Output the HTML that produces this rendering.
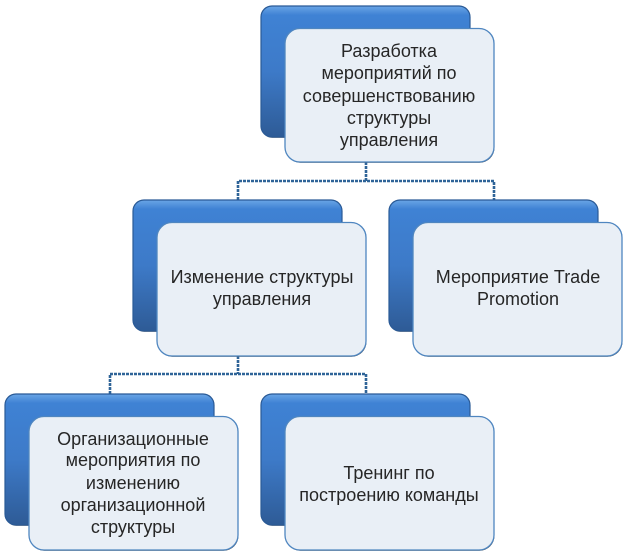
<!DOCTYPE html>
<html><head><meta charset="utf-8"><style>
html,body{margin:0;padding:0;background:#fff;width:627px;height:556px;overflow:hidden}
text{font-family:"Liberation Sans","Noto Sans CJK SC",sans-serif;font-size:18px;fill:#262626;text-anchor:middle}
</style></head><body>
<svg width="627" height="556" viewBox="0 0 627 556" xmlns="http://www.w3.org/2000/svg">
<defs>
<linearGradient id="b" x1="0" y1="0" x2="0" y2="1">
<stop offset="0" stop-color="#6aa5e6"/><stop offset=".07" stop-color="#3f82d4"/><stop offset=".5" stop-color="#3d7ac8"/><stop offset="1" stop-color="#2e5b96"/>
</linearGradient>
<g id="n">
<rect x="0.500" y="0.800" width="209" height="131" rx="11" fill="#333"/>
<rect x="0" y="0" width="209" height="131" rx="11" fill="url(#b)" stroke="#2a5a96" stroke-width="1.200"/>
<rect x="24.500" y="23.300" width="209" height="133.500" rx="15" fill="#333"/>
<rect x="24" y="22.500" width="209" height="133.500" rx="15" fill="#e9eff6" stroke="#4f86c0" stroke-width="1.300"/>
</g>
</defs>
<g fill="none" stroke="#2f6498" stroke-width="2.600" stroke-dasharray="3 1">
<path d="M366 162V181M238 200V181H494V200"/>
<path d="M238 356V374M110 394V374H366V394"/>
</g>
<use href="#n" x="261" y="6"/>
<use href="#n" x="133" y="200"/>
<use href="#n" x="389" y="200"/>
<use href="#n" x="5" y="394"/>
<use href="#n" x="261" y="394"/>
<text x="389" y="57">Разработка</text>
<text x="389" y="79">мероприятий по</text>
<text x="389" y="102">совершенствованию</text>
<text x="389" y="124">структуры</text>
<text x="389" y="146">управления</text>
<text x="262" y="283">Изменение структуры</text>
<text x="262" y="305">управления</text>
<text x="518" y="283">Мероприятие Trade</text>
<text x="518" y="305">Promotion</text>
<text x="133" y="445">Организационные</text>
<text x="133" y="466">мероприятия по</text>
<text x="133" y="489">изменению</text>
<text x="133" y="511">организационной</text>
<text x="133" y="533">структуры</text>
<text x="389" y="479">Тренинг по</text>
<text x="389" y="501">построению команды</text>
</svg>
</body></html>
